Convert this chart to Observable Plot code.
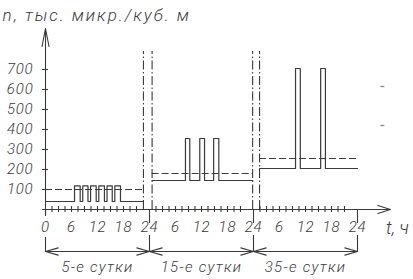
<!DOCTYPE html>
<html>
<head>
<meta charset="utf-8">
<script src="https://cdn.jsdelivr.net/npm/d3@7"></script>
<script src="https://cdn.jsdelivr.net/npm/@observablehq/plot@0.6"></script>
<style>
  html, body { margin: 0; padding: 0; background: #fff; }
  #chart { width: 413px; height: 279px; overflow: hidden; }
</style>
</head>
<body>
<div id="chart"></div>
<script>
// ---- data ----
const titleText = "n, тыс. микр./куб. м";
const xAxisText = "t, ч";
const dayLabels = ["5-е сутки", "15-е сутки", "35-е сутки"];
const dayStart = [0, 24.6, 49.4];        // where each day's record starts (h on the shared axis)
const dayEnd = [22.6, 47.8, 72];         // where each day's record ends
const dayCenter = [12, 36, 60];
const dayBounds = [[0, 24], [24, 48], [48, 72]];
const baseLevel = [40, 145, 205];        // background concentration
const peakLevel = [118, 355, 705];       // level of the pulses
const meanLevel = [100, 180, 255];       // dashed average lines
const pulses = [
  [[6.7, 8.0], [8.6, 9.8], [10.4, 11.7], [12.3, 13.6], [14.2, 15.4], [16.0, 17.3]],
  [[32.3, 33.3], [35.6, 36.7], [38.8, 40.0]],
  [[57.7, 58.8], [63.5, 64.6]]
];
const breakLines = [22.6, 24.6, 47.8, 49.4];   // dash-dot lines between days
const breakTop = 790;
const yTicks = [100, 200, 300, 400, 500, 600, 700];
const xTickHours = [0, 6, 12, 18, 24, 30, 36, 42, 48, 54, 60, 66, 72];
const xTickLabels = ["0", "6", "12", "18", "24", "6", "12", "18", "24", "6", "12", "18", "24"];
const minorTicks = [1.5, 3, 4.5, 6, 7.5, 9, 10.5, 12, 13.5, 15, 16.5, 18, 19.5, 21,
                    25.5, 27, 28.5, 30, 31.5, 33, 34.5, 36, 37.5, 39, 40.5, 42, 43.5, 45,
                    49.5, 51, 52.5, 54, 55.5, 57, 58.5, 60, 61.5, 63, 64.5, 66, 67.5, 69];
const strayMarks = [615, 420];

// annotation geometry in data units
const extUpper = [{x: 0, y1: 0, y2: -30}, {x: 24, y1: 0, y2: -70}, {x: 48, y1: 0, y2: -70}, {x: 72, y1: 0, y2: -70}];
const extLower = [{x: 0, y1: -140, y2: -215}, {x: 24, y1: -130, y2: -215}, {x: 48, y1: -130, y2: -215}, {x: 72, y1: -130, y2: -215}];
const dimY = -210;
const labelY = -290;
const titlePos = {x: -9.9, y: 968};
const tLabelPos = {x: 78.6, y: -95};
const xAxisEnd = 79.6, xAxisStart = -0.7;
const yAxisTop = 905, yAxisBottom = -30;
const strayX = [77.4, 78.3];

// ---- build step polylines ----
const steps = [];
dayLabels.forEach((d, i) => {
  const pts = [{t: dayStart[i], n: baseLevel[i]}];
  pulses[i].forEach(([a, b]) => {
    pts.push({t: a, n: baseLevel[i]}, {t: a, n: peakLevel[i]}, {t: b, n: peakLevel[i]}, {t: b, n: baseLevel[i]});
  });
  pts.push({t: dayEnd[i], n: baseLevel[i]});
  pts.forEach(p => steps.push({...p, day: d}));
});
const means = dayLabels.map((d, i) => ({day: d, x1: dayStart[i], x2: dayEnd[i], y: meanLevel[i]}));
const dims = [];
dayBounds.forEach(([a, b], i) => {
  dims.push({x1: dayCenter[i], x2: a}, {x1: dayCenter[i], x2: b});
});

const ink = "#3a3a3a";
const font = "Roboto, 'DejaVu Sans', sans-serif";

const chart = Plot.plot({
  width: 413,
  height: 279,
  marginLeft: 45,
  marginRight: 56,
  marginTop: 29,
  marginBottom: 70,
  x: {domain: [0, 72]},
  y: {domain: [0, 900]},
  style: {fontFamily: font, fontStyle: "italic", color: ink, background: "white"},
  marks: [
    // axes
    Plot.arrow([0], {x1: xAxisStart, x2: xAxisEnd, y1: 0, y2: 0, stroke: ink, strokeWidth: 1.1, headLength: 18, headAngle: 36}),
    Plot.arrow([0], {x1: 0, x2: 0, y1: yAxisBottom, y2: yAxisTop, stroke: ink, strokeWidth: 1.1, headLength: 25, headAngle: 22}),
    Plot.ruleY(yTicks, {y: d => d, x1: 0, x2: 0, insetLeft: -3, insetRight: -3, stroke: ink, strokeWidth: 1.1}),
    Plot.ruleX(minorTicks, {x: d => d, y1: 0, y2: 0, insetTop: -3, insetBottom: -3, stroke: ink, strokeWidth: 1.1}),
    Plot.axisY({ticks: yTicks, tickSize: 0, tickPadding: 12, fontSize: 15, fontWeight: 300, fill: ink}),
    Plot.axisX({ticks: xTickHours, tickFormat: d => xTickLabels[xTickHours.indexOf(d)], tickSize: 0, tickPadding: 12, fontSize: 15, fontWeight: 300, fill: ink}),
    // extension lines and dimension arrows
    Plot.ruleX(extUpper, {x: "x", y1: "y1", y2: "y2", stroke: ink, strokeWidth: 1.1}),
    Plot.ruleX(extLower, {x: "x", y1: "y1", y2: "y2", stroke: ink, strokeWidth: 1.1}),
    Plot.arrow(dims, {x1: "x1", x2: "x2", y1: dimY, y2: dimY, stroke: ink, strokeWidth: 1.1, headLength: 18, headAngle: 32}),
    Plot.text(dayLabels, {x: (d, i) => dayCenter[i], y: labelY, text: d => d, fontSize: 15, fontWeight: 300, fill: ink}),
    // dash-dot breaks
    Plot.ruleX(breakLines, {x: d => d, y1: 0, y2: breakTop, stroke: ink, strokeWidth: 1.1, strokeDasharray: "9,2.5,1.5,2.5"}),
    // mean lines
    Plot.ruleY(means, {x1: "x1", x2: "x2", y: "y", stroke: ink, strokeWidth: 1.1, strokeDasharray: "7,3"}),
    // step records
    Plot.line(steps, {x: "t", y: "n", z: "day", stroke: ink, strokeWidth: 1.2}),
    // stray marks
    Plot.ruleY(strayMarks, {y: d => d, x1: strayX[0], x2: strayX[1], stroke: "#888", strokeWidth: 1.3}),
    // titles
    Plot.text([titleText], {x: titlePos.x, y: titlePos.y, text: d => d, textAnchor: "start", fontSize: 17, fontWeight: 300, fill: ink}),
    Plot.text([xAxisText], {x: tLabelPos.x, y: tLabelPos.y, text: d => d, textAnchor: "start", fontSize: 18, fontWeight: 300, fill: ink})
  ]
});

// letter spacing to imitate the wide drafting lettering
const spacing = new Map([[titleText, 2]]);
dayLabels.forEach(d => spacing.set(d, 1.3));
xTickLabels.forEach(d => spacing.set(d, 0.8));
yTicks.forEach(d => spacing.set(String(d), 0.8));
d3.select(chart).selectAll("text").each(function () {
  const s = spacing.get(this.textContent);
  if (s != null) this.setAttribute("letter-spacing", s);
});
document.getElementById("chart").appendChild(chart);
</script>
</body>
</html>
